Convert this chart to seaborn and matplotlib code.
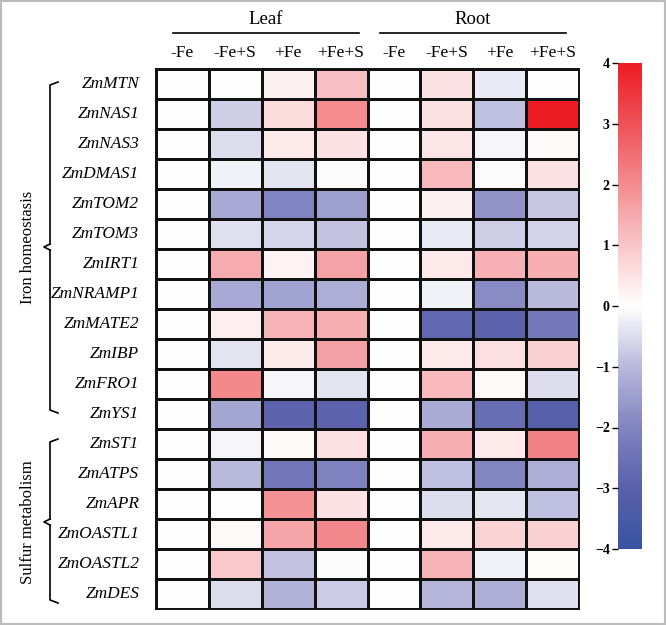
import numpy as np
import pandas as pd
import seaborn as sns
import matplotlib
matplotlib.use("Agg")
import matplotlib.pyplot as plt
from matplotlib.colors import LinearSegmentedColormap
from matplotlib.lines import Line2D

genes = ["ZmMTN", "ZmNAS1", "ZmNAS3", "ZmDMAS1", "ZmTOM2", "ZmTOM3", "ZmIRT1",
         "ZmNRAMP1", "ZmMATE2", "ZmIBP", "ZmFRO1", "ZmYS1",
         "ZmST1", "ZmATPS", "ZmAPR", "ZmOASTL1", "ZmOASTL2", "ZmDES"]
treatments = ["-Fe", "-Fe+S", "+Fe", "+Fe+S", "-Fe", "-Fe+S", "+Fe", "+Fe+S"]
tissues = ["Leaf", "Root"]
groups = ["Iron homeostasis", "Sulfur metabolism"]

leaf_mFe   = [0]*18
leaf_mFeS  = [0, -0.7, -0.5, -0.2, -1.3, -0.45, 1.45, -1.3, 0.3, -0.4, 2.05, -1.35, -0.15, -1.0, 0.0, 0.1, 0.95, -0.5]
leaf_pFe   = [0.25, 0.6, 0.35, -0.4, -2.0, -0.6, 0.2, -1.4, 1.3, 0.35, -0.15, -2.9, 0.1, -2.4, 1.9, 1.55, -0.85, -1.1]
leaf_pFeS  = [1.1, 2.0, 0.5, -0.05, -1.5, -0.85, 1.6, -1.2, 1.4, 1.65, -0.4, -2.9, 0.55, -2.05, 0.5, 2.05, -0.05, -0.75]
root_mFe   = [0]*18
root_mFeS  = [0.5, 0.5, 0.45, 1.2, 0.25, -0.3, 0.4, -0.2, -2.8, 0.35, 1.2, -1.25, 1.4, -0.9, -0.5, 0.35, 1.3, -1.05]
root_pFe   = [-0.3, -0.9, -0.15, -0.05, -1.7, -0.7, 1.35, -1.85, -2.9, 0.55, 0.1, -2.6, 0.4, -1.95, -0.35, 0.75, -0.2, -1.2]
root_pFeS  = [0.0, 4.0, 0.1, 0.5, -0.8, -0.65, 1.4, -1.0, -2.3, 0.8, -0.5, -3.1, 2.2, -1.2, -0.9, 0.8, 0.05, -0.45]

data = np.array([leaf_mFe, leaf_mFeS, leaf_pFe, leaf_pFeS,
                 root_mFe, root_mFeS, root_pFe, root_pFeS]).T
df = pd.DataFrame(data, index=genes, columns=range(8))

cmap = LinearSegmentedColormap.from_list(
    "bwr2",
    [(0.0, "#3953a4"), (0.125, "#5961ab"), (0.25, "#8084c0"), (0.375, "#b9b9dc"),
     (0.5, "#ffffff"), (0.625, "#f9c6c8"), (0.75, "#f38c90"), (0.875, "#ef5258"),
     (1.0, "#ed1c24")])

W, H = 666, 625
fig = plt.figure(figsize=(W/100, H/100), dpi=100)
serif = ["Liberation Serif", "DejaVu Serif"]

ax = fig.add_axes([156/W, 1 - 609/H, 423/W, 540/H])
cax = fig.add_axes([618/W, 1 - 549/H, 24/W, 486/H])

sns.heatmap(df, ax=ax, cmap=cmap, vmin=-4, vmax=4, linewidths=0.8, linecolor="#111111",
            cbar_ax=cax, xticklabels=treatments, yticklabels=genes)

for s in ax.spines.values():
    s.set_visible(True)
    s.set_linewidth(1.4)
    s.set_color("#111111")

ax.xaxis.tick_top()
ax.tick_params(axis="both", length=0)
ax.set_xticklabels(treatments, fontsize=12.5, family=serif, rotation=0)
ax.set_yticklabels(genes, fontsize=12.5, family=serif, style="italic", rotation=0)
ax.tick_params(axis="y", pad=12)
ax.tick_params(axis="x", pad=6)
ax.set_xlabel("")
ax.set_ylabel("")

# colorbar
cax.yaxis.set_ticks_position("left")
cax.tick_params(axis="y", length=4, width=1, labelsize=10, pad=2)
cax.set_yticks([-4, -3, -2, -1, 0, 1, 2, 3, 4])
for t in cax.get_yticklabels():
    t.set_family(serif)
    t.set_fontweight("bold")
for s in cax.spines.values():
    s.set_visible(False)

def fx(x):
    return x / W
def fy(y):
    return 1 - y / H

# tissue headers
for name, x0, x1 in [(tissues[0], 173, 359), (tissues[1], 380, 566)]:
    fig.add_artist(Line2D([fx(x0), fx(x1)], [fy(33), fy(33)], color="black", lw=1.2))
    fig.text(fx((x0 + x1) / 2), fy(20), name, ha="center", va="center",
             fontsize=13.5, family=serif)

# brackets
def brace(y0, y1, ym, x=50):
    kw = dict(color="black", lw=1.2)
    fig.add_artist(Line2D([fx(x + 8), fx(x), fx(x)], [fy(y0), fy(y0 + 3), fy(ym - 3)], **kw))
    fig.add_artist(Line2D([fx(x), fx(x - 6), fx(x)], [fy(ym - 3), fy(ym), fy(ym + 3)], **kw))
    fig.add_artist(Line2D([fx(x), fx(x), fx(x + 8)], [fy(ym + 3), fy(y1 - 3), fy(y1)], **kw))

brace(82, 413, 247)
brace(439, 603, 522)
fig.text(fx(28), fy(247), groups[0], rotation=90, ha="center", va="center",
         fontsize=12, family=serif)
fig.text(fx(28), fy(522), groups[1], rotation=90, ha="center", va="center",
         fontsize=12, family=serif)

# frame
fig.add_artist(plt.Rectangle((0, 0), 1, 1, transform=fig.transFigure, fill=False,
                             edgecolor="#bbbbbb", lw=3))

fig.savefig("out.png", dpi=100)
